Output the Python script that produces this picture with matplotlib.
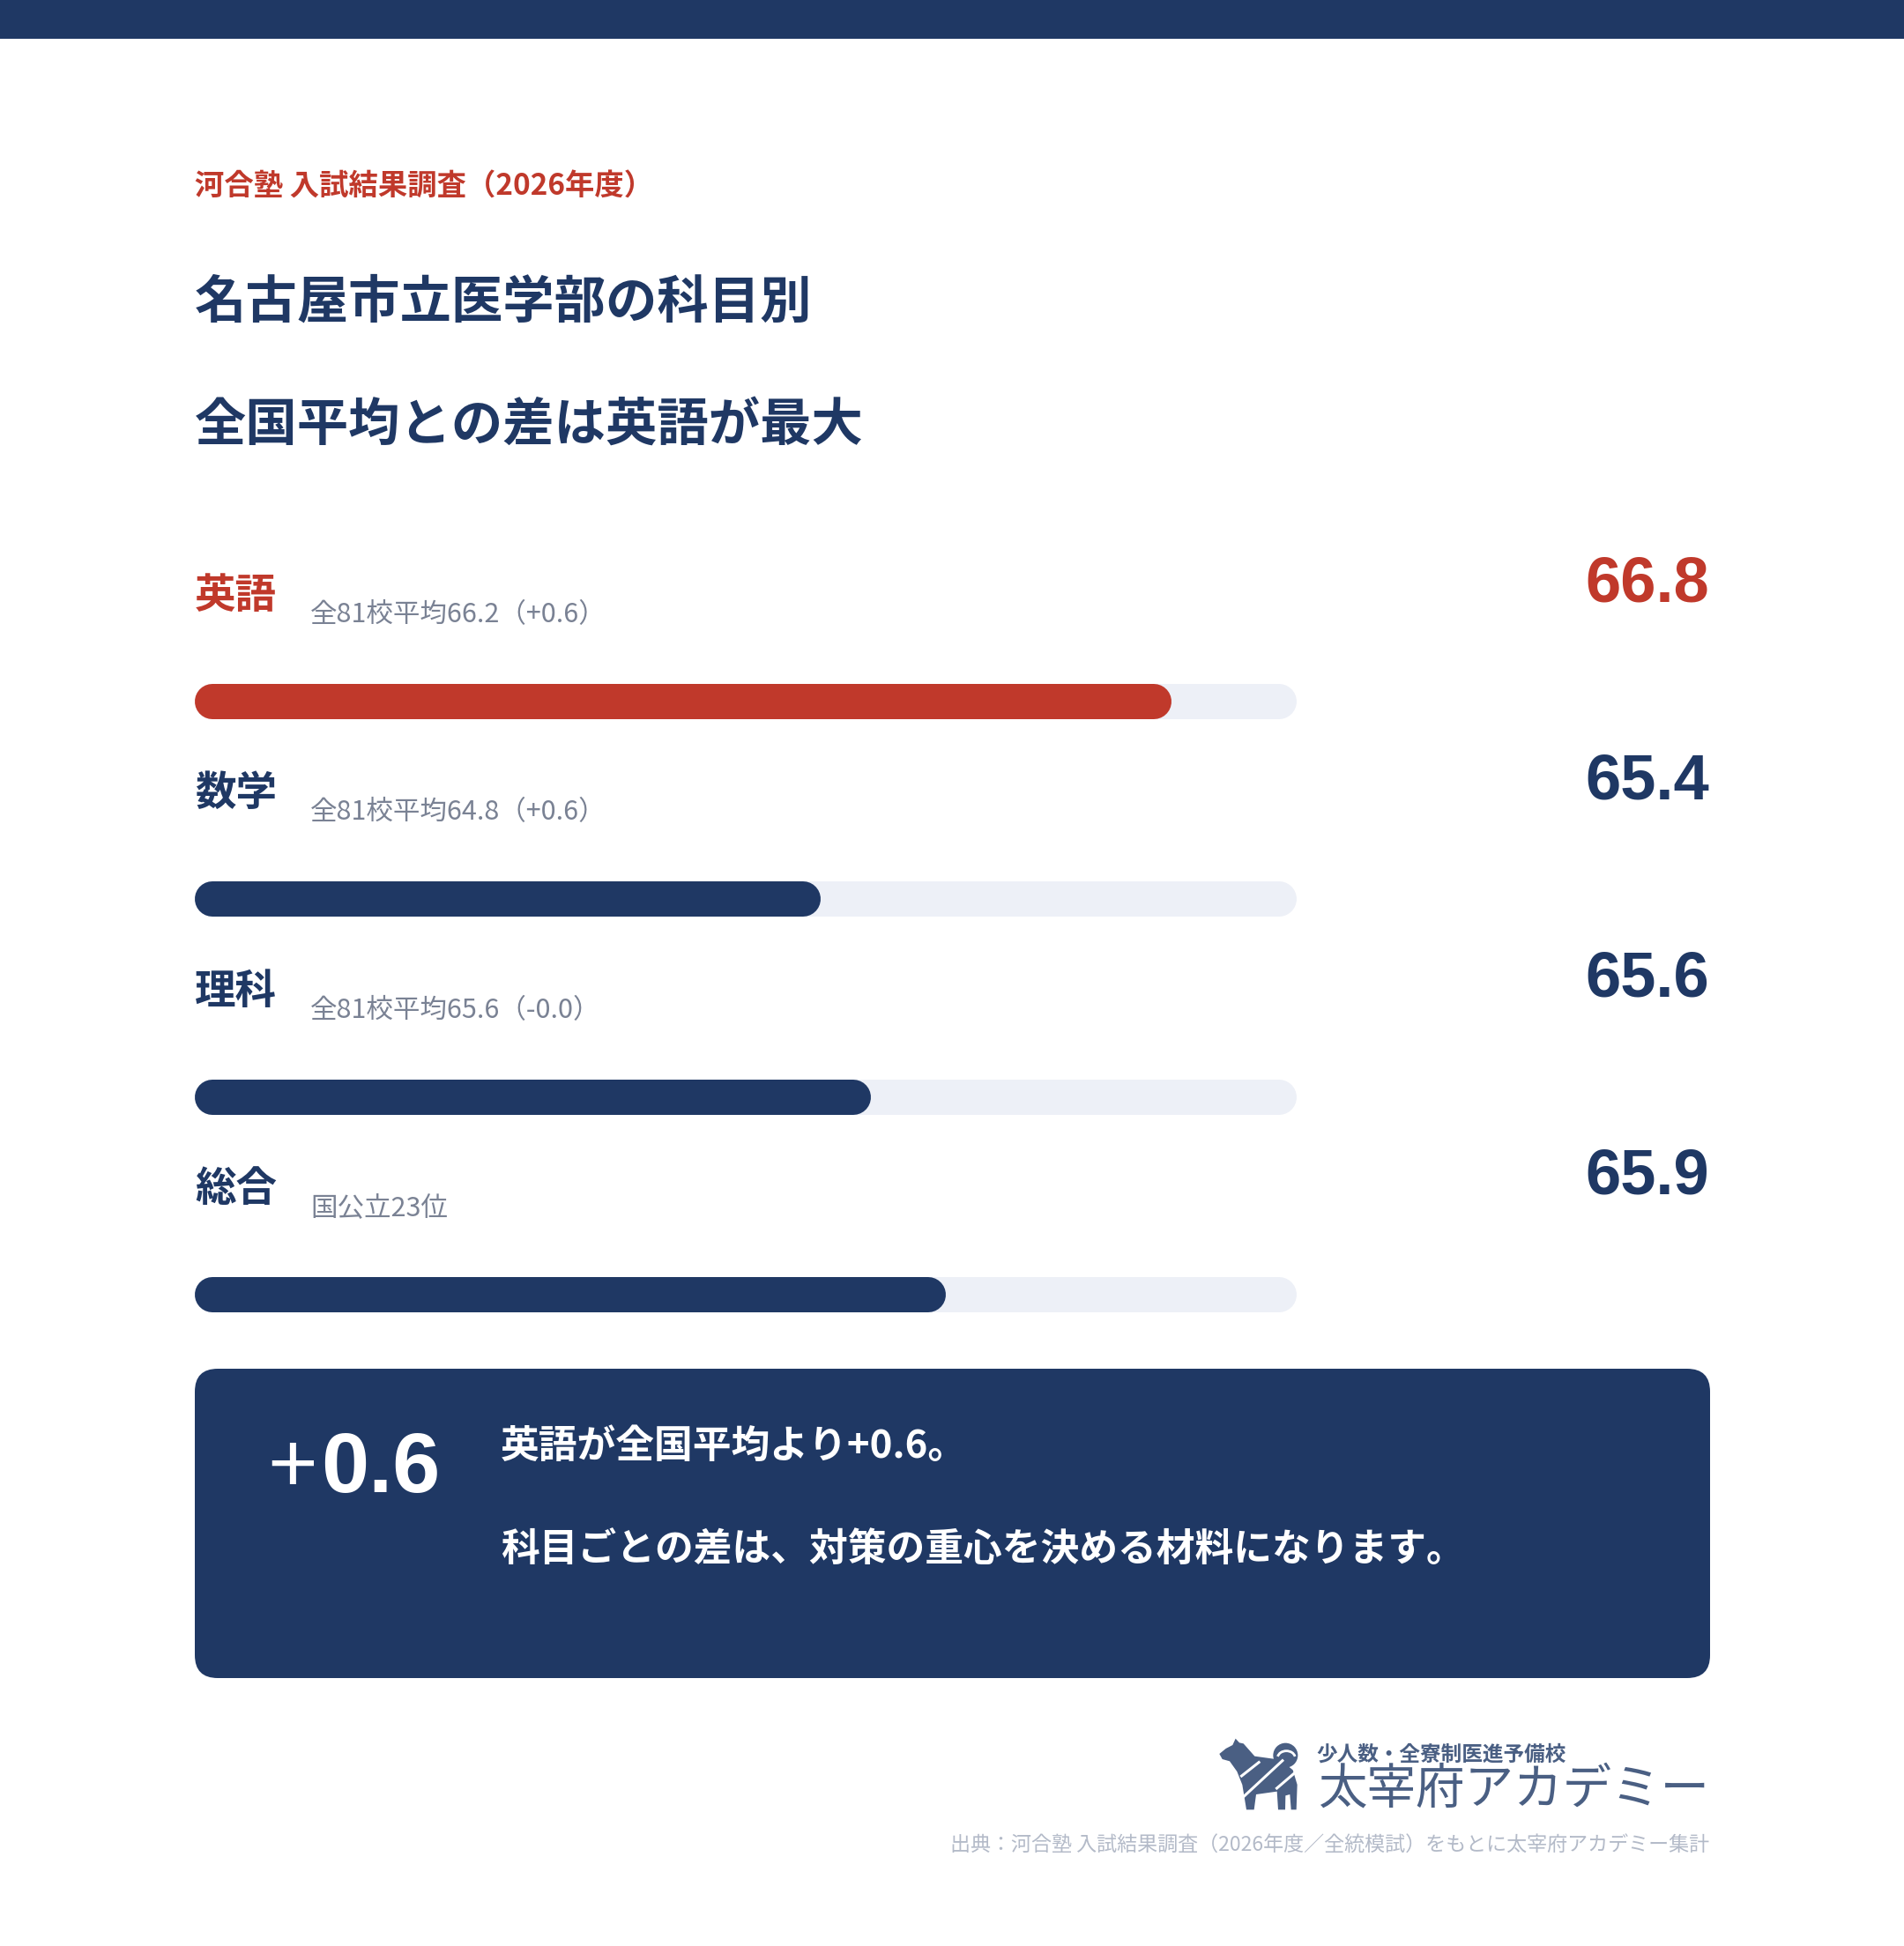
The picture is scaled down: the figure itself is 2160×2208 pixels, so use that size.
import matplotlib
matplotlib.use("Agg")
import matplotlib.pyplot as plt
from matplotlib.patches import Rectangle, FancyBboxPatch, Polygon, Circle, Arc
from matplotlib.transforms import blended_transform_factory

# ---------------- data ----------------
subjects = ["英語", "数学", "理科", "総合"]
scores = [66.8, 65.4, 65.6, 65.9]
notes = ["全81校平均66.2（+0.6）", "全81校平均64.8（+0.6）",
         "全81校平均65.6（-0.0）", "国公立23位"]
highlight = "英語"
axis_min, axis_max = 62.9, 67.3

kicker = "河合塾 入試結果調査（2026年度）"
title_lines = ["名古屋市立医学部の科目別", "全国平均との差は英語が最大"]
callout_value = "0.6"
callout_lines = ["英語が全国平均より+0.6。", "科目ごとの差は、対策の重心を決める材料になります。"]
source = "出典：河合塾 入試結果調査（2026年度／全統模試）をもとに太宰府アカデミー集計"
logo_small = "少人数・全寮制医進予備校"
logo_big = "太宰府アカデミー"

# ---------------- style ----------------
NAVY = "#1f3864"
RED = "#c0392b"
TRACK = "#edf0f7"
GRAY = "#7a8294"
LIGHT = "#b3bac8"
LOGO = "#4a5f83"
CJK = ["Noto Sans CJK JP", "DejaVu Sans"]
NUM = ["Liberation Sans", "Noto Sans CJK JP"]

W, H, DPI = 2160, 2208, 100
fig = plt.figure(figsize=(W / DPI, H / DPI), dpi=DPI, facecolor="white")
axp = fig.add_axes([0, 0, 1, 1])
axp.set_xlim(0, W)
axp.set_ylim(H, 0)
axp.axis("off")

# top band
axp.add_patch(Rectangle((0, 0), W, 44, color=NAVY, lw=0))

# header texts
axp.text(221, 222, kicker, fontsize=24, fontweight="bold", color=RED,
         family=CJK, va="baseline", ha="left")
for i, line in enumerate(title_lines):
    axp.text(221, 361 + 139 * i, line, fontsize=42, fontweight="bold",
             color=NAVY, family=CJK, va="baseline", ha="left")

# ---------------- bars ----------------
left_px, right_px = 221, 1471
top_px, bot_px = 684, 1581
axb = fig.add_axes([left_px / W, (H - bot_px) / H,
                    (right_px - left_px) / W, (bot_px - top_px) / H])
axb.set_xlim(axis_min, axis_max)
axb.set_ylim(len(subjects) - 0.5, -0.5)
axb.axis("off")

bar_h_px = 40
lw_pt = bar_h_px * 72.0 / DPI
units_per_px = (axis_max - axis_min) / (right_px - left_px)
cap = (bar_h_px / 2) * units_per_px
unit_px = (bot_px - top_px) / len(subjects)

tr = blended_transform_factory(axp.transData, axb.transData)

for i, (s, v, n) in enumerate(zip(subjects, scores, notes)):
    col = RED if s == highlight else NAVY
    axb.plot([axis_min + cap, axis_max - cap], [i, i], color=TRACK, lw=lw_pt,
             solid_capstyle="round", clip_on=False, zorder=1)
    axb.plot([axis_min + cap, v - cap], [i, i], color=col, lw=lw_pt,
             solid_capstyle="round", clip_on=False, zorder=2)
    axp.text(221, i - 106 / unit_px, s, transform=tr, fontsize=33.5,
             fontweight="bold", color=col, family=CJK, va="baseline", ha="left")
    axp.text(352, i - 90 / unit_px, n, transform=tr, fontsize=22,
             color=GRAY, family=CJK, va="baseline", ha="left")
    axp.text(1939, i - 114 / unit_px, f"{v:.1f}", transform=tr, fontsize=52,
             fontweight="bold", color=col, family=NUM, va="baseline", ha="right")

# ---------------- callout box ----------------
axp.add_patch(FancyBboxPatch((221, 1553), 1719, 351,
                             boxstyle="round,pad=0,rounding_size=26",
                             facecolor=NAVY, edgecolor="none"))
axp.text(303, 1693, "+", fontsize=70, fontweight="normal", color="white",
         family=NUM, va="baseline", ha="left")
axp.text(364, 1693, callout_value, fontsize=70, fontweight="bold", color="white",
         family=NUM, va="baseline", ha="left")
for i, line in enumerate(callout_lines):
    axp.text(568, 1654 + 117 * i, line, fontsize=31.5, fontweight="bold",
             color="white", family=CJK, va="baseline", ha="left")

# ---------------- logo ----------------
def dz(pts):
    return [(1370 + x / 3.0, 1960 + y / 3.0) for x, y in pts]

dog = dz([(40, 90), (62, 72), (85, 60), (95, 38), (108, 52), (122, 55),
          (160, 98), (232, 108), (250, 112), (290, 145), (305, 195),
          (302, 280), (284, 280), (280, 228), (265, 232), (264, 280),
          (240, 280), (236, 218), (165, 228), (158, 280), (132, 280),
          (118, 195), (100, 150), (75, 115), (50, 108)])
axp.add_patch(Polygon(dog, closed=True, facecolor=LOGO, edgecolor="none", zorder=3))
cx, cy = dz([(265, 95)])[0]
axp.add_patch(Circle((cx, cy), 14, facecolor=LOGO, edgecolor="none", zorder=3))
axp.add_patch(Arc((cx + 1, cy + 3), 20, 16, theta1=190, theta2=350, color="white",
                  lw=2.0, zorder=4))
for a, b in [((112, 168), (178, 116)), ((120, 238), (258, 110)),
             ((232, 210), (302, 150))]:
    (x1, y1), (x2, y2) = dz([a, b])
    axp.plot([x1, x2], [y1, y2], color="white", lw=2.2, zorder=4,
             solid_capstyle="butt")

axp.text(1493, 1998, logo_small, fontsize=17, fontweight="bold", color=LOGO,
         family=CJK, va="baseline", ha="left")
axp.text(1939, 2047, logo_big, fontsize=40, fontweight="regular", color=LOGO,
         family=CJK, va="baseline", ha="right")

# source
axp.text(1939, 2100, source, fontsize=16.6, color=LIGHT, family=CJK,
         va="baseline", ha="right")

fig.savefig("out.png", dpi=DPI, facecolor="white")
